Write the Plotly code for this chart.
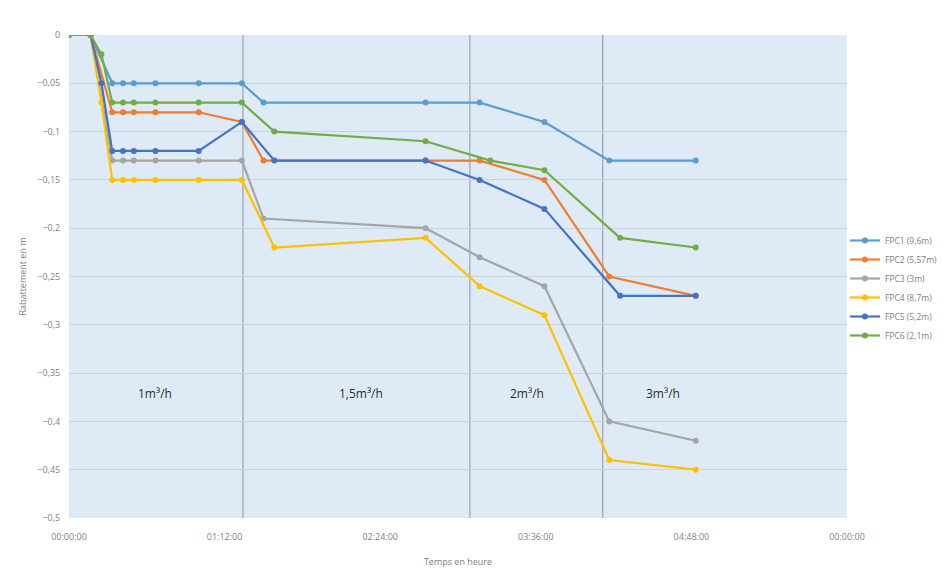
import plotly.graph_objects as go

# Elapsed time of each reading, in minutes since the start of pumping
t_fpc1 = [0, 10, 20, 25, 30, 40, 60, 80, 90, 165, 190, 220, 250, 290]
t_fpc2 = [0, 10, 20, 25, 30, 40, 60, 80, 90, 165, 190, 220, 250, 290]
t_fpc3 = [0, 10, 20, 25, 30, 40, 60, 80, 90, 165, 190, 220, 250, 290]
t_fpc4 = [0, 10, 15, 20, 25, 30, 40, 60, 80, 95, 165, 190, 220, 250, 290]
t_fpc5 = [0, 10, 15, 20, 25, 30, 40, 60, 80, 95, 165, 190, 220, 255, 290]
t_fpc6 = [0, 10, 15, 20, 25, 30, 40, 60, 80, 95, 165, 195, 220, 255, 290]

# Drawdown (m)
fpc1 = [0, 0, -0.05, -0.05, -0.05, -0.05, -0.05, -0.05, -0.07, -0.07, -0.07, -0.09, -0.13, -0.13]
fpc2 = [0, 0, -0.08, -0.08, -0.08, -0.08, -0.08, -0.09, -0.13, -0.13, -0.13, -0.15, -0.25, -0.27]
fpc3 = [0, 0, -0.13, -0.13, -0.13, -0.13, -0.13, -0.13, -0.19, -0.20, -0.23, -0.26, -0.40, -0.42]
fpc4 = [0, 0, -0.07, -0.15, -0.15, -0.15, -0.15, -0.15, -0.15, -0.22, -0.21, -0.26, -0.29, -0.44, -0.45]
fpc5 = [0, 0, -0.05, -0.12, -0.12, -0.12, -0.12, -0.12, -0.09, -0.13, -0.13, -0.15, -0.18, -0.27, -0.27]
fpc6 = [0, 0, -0.02, -0.07, -0.07, -0.07, -0.07, -0.07, -0.07, -0.10, -0.11, -0.13, -0.14, -0.21, -0.22]

series = [
    ("FPC1 (9,6m)", t_fpc1, fpc1, "#5B9BD5"),
    ("FPC2 (5,57m)", t_fpc2, fpc2, "#ED7D31"),
    ("FPC3 (3m)", t_fpc3, fpc3, "#A5A5A5"),
    ("FPC4 (8,7m)", t_fpc4, fpc4, "#FFC000"),
    ("FPC5 (5,2m)", t_fpc5, fpc5, "#4472C4"),
    ("FPC6 (2,1m)", t_fpc6, fpc6, "#70AD47"),
]

# Pumping stages: boundaries (minutes) and labels
stage_bounds = [80.5, 185.5, 247]
stage_labels = ["1m³/h", "1,5m³/h", "2m³/h", "3m³/h"]
stage_label_x = [40, 135, 212, 275]
stage_label_y = -0.371

tick_vals = [0, 72, 144, 216, 288, 360]
tick_text = ["00:00:00", "01:12:00", "02:24:00", "03:36:00", "04:48:00", "00:00:00"]

fig = go.Figure()
for name, t, v, c in series:
    fig.add_trace(go.Scatter(
        x=t, y=v, name=name, mode="lines+markers",
        line=dict(color=c, width=2.2),
        marker=dict(color=c, size=6),
    ))

for b in stage_bounds:
    fig.add_shape(type="line", x0=b, x1=b, y0=0, y1=-0.5, xref="x", yref="y",
                  line=dict(color="#8a94a0", width=1), layer="below")

for lab, lx in zip(stage_labels, stage_label_x):
    fig.add_annotation(x=lx, y=stage_label_y, text=lab, showarrow=False,
                       font=dict(size=12, color="#2b2b2b", family="Open Sans"))

fig.update_layout(
    width=943, height=587,
    margin=dict(l=69, r=96, t=35, b=69, autoexpand=False),
    paper_bgcolor="white",
    plot_bgcolor="#deebf7",
    separators=", ",
    font=dict(family="Open Sans", size=9, color="#7f7f7f"),
    showlegend=True,
    legend=dict(xref="container", yref="container", x=0.896, xanchor="left",
                y=0.615, yanchor="top",
                font=dict(size=8.5, color="#808080"),
                bgcolor="rgba(0,0,0,0)", tracegroupgap=0, itemwidth=30),
    xaxis=dict(range=[0, 360], tickvals=tick_vals, ticktext=tick_text,
               showgrid=False, zeroline=False, showline=False,
               ticks="outside", ticklen=10, tickcolor="rgba(0,0,0,0)",
               title=dict(text="Temps en heure", font=dict(size=9, color="#7f7f7f"), standoff=16),
               tickfont=dict(size=9, color="#7f7f7f")),
    yaxis=dict(range=[-0.5, 0], dtick=0.05, tickformat=".2~f",
               showgrid=True, gridcolor="#c9d3dc", gridwidth=1,
               zeroline=False, showline=False,
               ticks="outside", ticklen=6, tickcolor="rgba(0,0,0,0)",
               title=dict(text="Rabattement en m", font=dict(size=9, color="#7f7f7f"), standoff=9),
               tickfont=dict(size=9, color="#7f7f7f")),
)

fig.write_html("out.html")
